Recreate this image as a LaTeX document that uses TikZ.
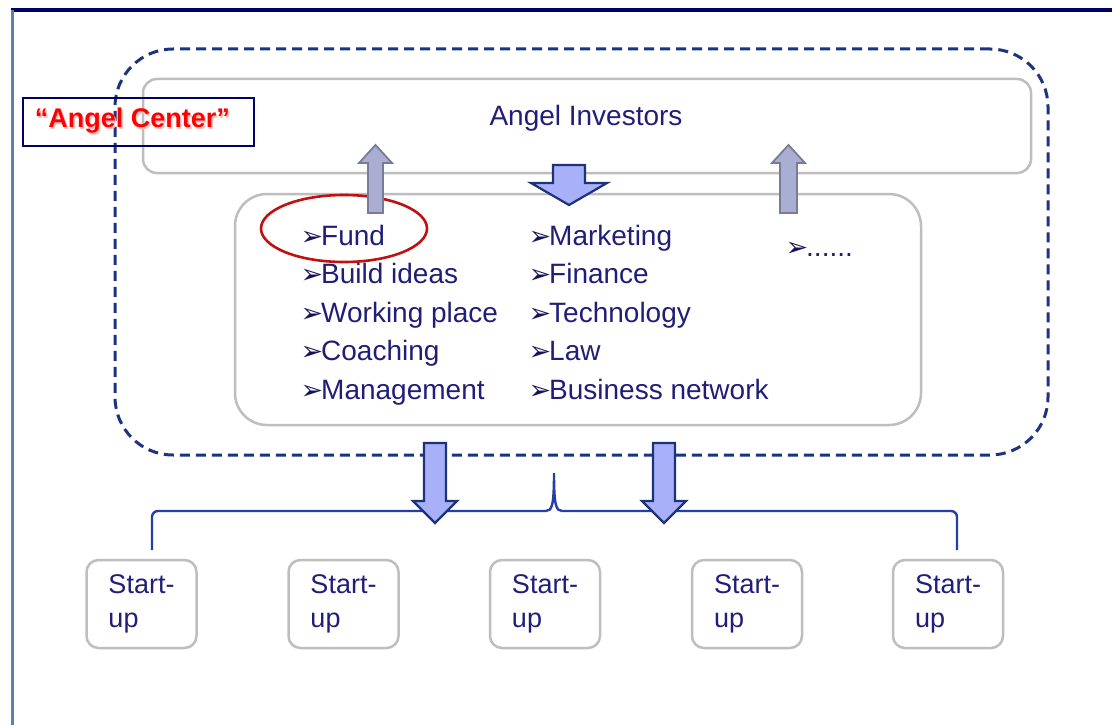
\documentclass[tikz,border=0pt]{standalone}
\usepackage{fontspec}
\setmainfont{Liberation Sans}
\newfontfamily\dingfont{DejaVu Sans}
\usetikzlibrary{shapes.geometric}

\definecolor{navytext}{RGB}{32,30,120}
\definecolor{framenavy}{RGB}{0,0,102}
\definecolor{frameside}{RGB}{96,126,176}
\definecolor{dashblue}{RGB}{28,52,128}
\definecolor{boxgray}{RGB}{190,190,190}
\definecolor{upfill}{RGB}{170,174,210}
\definecolor{upedge}{RGB}{120,124,150}
\definecolor{downfill}{RGB}{168,176,250}
\definecolor{downedge}{RGB}{30,50,120}
\definecolor{bracketblue}{RGB}{36,64,168}
\definecolor{ringred}{RGB}{192,16,16}
\definecolor{markblue}{RGB}{20,20,90}

\newcommand{\itemmark}{\makebox[19pt][l]{\hspace{-1.5pt}\color{markblue}\dingfont\fontsize{27}{27}\selectfont ➢}}

\begin{document}
\begin{tikzpicture}[x=1pt,y=-1pt,
  graybox/.style={draw=boxgray, line width=2.5pt, fill=none, inner sep=0pt},
  centerframe/.style={draw=dashblue, line width=3pt, dash pattern=on 10pt off 6pt, rounded corners=58pt, inner sep=0pt},
  labelbox/.style={draw=framenavy, line width=1.6pt, inner sep=0pt},
  listtext/.style={anchor=base west, text=navytext, font=\fontsize{28}{30}\selectfont, inner sep=0pt},
  upblock/.style={fill=upfill, draw=upedge, line width=1.8pt, line join=miter},
  downblock/.style={fill=downfill, draw=downedge, line width=2.2pt, line join=miter},
  bracket/.style={draw=bracketblue, line width=2.4pt, rounded corners=6pt},
  startbox/.style={graybox, rounded corners=12pt, minimum width=110pt, minimum height=88pt,
    align=left, text=navytext, font=\fontsize{27}{34}\selectfont},
  ring/.style={draw=ringred, line width=2.6pt, ellipse, inner sep=0pt}
]
\useasboundingbox (0,0) rectangle (1112,725);
\fill[white] (0,0) rectangle (1112,725);

% page frame
\draw[framenavy, line width=3.5pt] (11,10) -- (1112,10);
\draw[frameside, line width=3pt] (12.5,10) -- (12.5,725);

% dashed "Angel Center" region
\node[centerframe, minimum width=933pt, minimum height=406pt] (center) at (581.5,252) {};

% investors bar
\node[graybox, rounded corners=14pt, minimum width=888pt, minimum height=94pt] (investors) at (587,126) {};
\node[anchor=base, text=navytext, font=\fontsize{28}{30}\selectfont, inner sep=0pt] (invtext) at (586,125) {Angel Investors};

% label box
\node[labelbox, minimum width=231pt, minimum height=48pt] (labelbox) at (138.5,122) {};
\node[anchor=base, text=red!25, font=\bfseries\fontsize{27}{30}\selectfont, inner sep=0pt] (labelshadow) at (134,129.5) {“Angel Center”};
\node[anchor=base, text=red, font=\bfseries\fontsize{27}{30}\selectfont, inner sep=0pt] (labeltext) at (132.5,128) {“Angel Center”};

% services box
\node[graybox, rounded corners=32pt, minimum width=686pt, minimum height=231pt] (services) at (578,309.5) {};

% ring around the first item
\node[ring, minimum width=166pt, minimum height=67pt] (fundring) at (344,228.5) {};

% service list, first column
\node[listtext] (fund)   at (302,245) {\itemmark Fund};
\node[listtext] (ideas)  at (302,283.5) {\itemmark Build ideas};
\node[listtext] (place)  at (302,322) {\itemmark Working place};
\node[listtext] (coach)  at (302,360.5) {\itemmark Coaching};
\node[listtext] (manage) at (302,399) {\itemmark Management};
% second column
\node[listtext] (market)  at (530,245) {\itemmark Marketing};
\node[listtext] (finance) at (530,283.5) {\itemmark Finance};
\node[listtext] (tech)    at (530,322) {\itemmark Technology};
\node[listtext] (law)     at (530,360.5) {\itemmark Law};
\node[listtext] (network) at (530,399) {\itemmark Business network};
% third column
\node[listtext] (more) at (787,256) {\itemmark ......};

% block arrows between investors and services
\draw[upblock] (368,213) -- (368,163) -- (359,163) -- (375.5,145) -- (392,163) -- (383,163) -- (383,213) -- cycle;
\draw[upblock] (780,213) -- (780,163) -- (772,163) -- (788.5,145) -- (805,163) -- (797,163) -- (797,213) -- cycle;
\draw[downblock] (553,165) -- (585,165) -- (585,183) -- (607,183) -- (569,205) -- (531,183) -- (553,183) -- cycle;

% bracket over the start-ups
\coordinate (bl) at (152,550);
\coordinate (br) at (957,550);
\coordinate (bmid) at (554,473);
\draw[bracket] (bl) |- (546,511);
\draw[draw=bracketblue, line width=2.4pt] (546,511) .. controls (552,511) and (554,505) .. (bmid)
  .. controls (554,505) and (556,511) .. (562,511);
\draw[bracket] (562,511) -| (br);

% block arrows out of the center
\draw[downblock] (424,443) -- (446,443) -- (446,501) -- (457,501) -- (435,523) -- (413,501) -- (424,501) -- cycle;
\draw[downblock] (653,443) -- (675,443) -- (675,501) -- (686,501) -- (664,523) -- (642,501) -- (653,501) -- cycle;

% start-ups
\node[startbox] (s1) at (141.5,604) {Start-\\up};
\node[startbox] (s2) at (343.5,604) {Start-\\up};
\node[startbox] (s3) at (545,604) {Start-\\up};
\node[startbox] (s4) at (747,604) {Start-\\up};
\node[startbox] (s5) at (948,604) {Start-\\up};
\end{tikzpicture}
\end{document}
